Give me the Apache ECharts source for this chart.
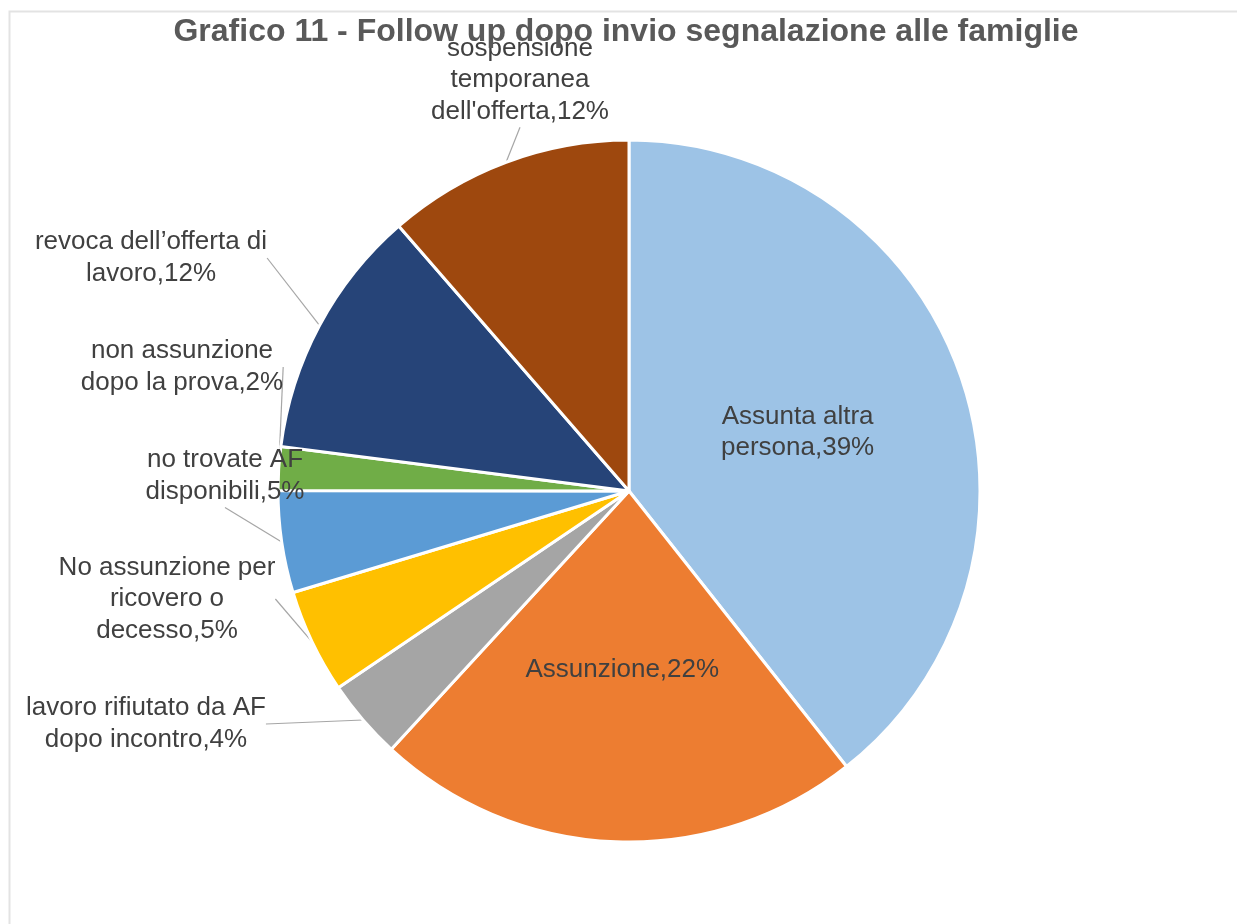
<!DOCTYPE html>
<html>
<head>
<meta charset="utf-8">
<script src="https://cdn.jsdelivr.net/npm/echarts@6/dist/echarts.min.js"></script>
<style>
  html, body { margin: 0; padding: 0; background: #fff; }
  #main { width: 1237px; height: 924px; }
</style>
</head>
<body>
<div id="main"></div>
<script>
// category names, with the line breaks used on the chart
var categories = [
    'Assunta altra\npersona',
    'Assunzione',
    'lavoro rifiutato da AF\ndopo incontro',
    'No assunzione per\nricovero o\ndecesso',
    'no trovate AF\ndisponibili',
    'non assunzione\ndopo la prova',
    'revoca dell\u2019offerta di\nlavoro',
    "sospensione\ntemporanea\ndell'offerta"
];
// share of each slice
var shares = [39.4, 22.5, 3.7, 4.8, 4.7, 2.0, 11.6, 11.4];
// percentages as printed on the chart
var percentLabels = [39, 22, 4, 5, 5, 2, 12, 12];
var colors = ['#9DC3E6', '#ED7D31', '#A5A5A5', '#FFC000', '#5B9BD5', '#70AD47', '#264478', '#9E480E'];

// label placement (centre of each outside label), null = inside the slice
var labelPlace = [null, null, [146, 724], [167, 599], [225, 476], [182, 367], [151, 258], [520, 80]];

var font = '"Liberation Sans", Arial, sans-serif';
var myChart = echarts.init(document.getElementById('main'));

var pieData = [];
for (var i = 0; i < categories.length; i++) {
    pieData.push({
        name: categories[i],
        value: shares[i],
        itemStyle: { color: colors[i] },
        label: { position: labelPlace[i] ? 'outside' : 'inside' }
    });
}

option = {
    backgroundColor: '#fff',
    animation: false,
    title: {
        text: 'Grafico 11 - Follow up dopo invio segnalazione alle famiglie',
        left: 621,
        textAlign: 'center',
        top: 11,
        textStyle: {
            fontFamily: font,
            fontSize: 32,
            fontWeight: 'bold',
            color: '#595959'
        }
    },
    graphic: [{
        type: 'rect',
        shape: { x: 9.5, y: 11.5, width: 1400, height: 1000 },
        style: { fill: 'none', stroke: '#e3e3e3', lineWidth: 2 },
        silent: true
    }],
    series: [{
        type: 'pie',
        center: [629, 491],
        radius: 351,
        startAngle: 90,
        clockwise: true,
        data: pieData,
        itemStyle: {
            borderColor: '#fff',
            borderWidth: 3
        },
        label: {
            formatter: function (p) {
                return p.name + ',' + percentLabels[p.dataIndex] + '%';
            },
            fontFamily: font,
            fontSize: 26,
            lineHeight: 31.5,
            color: '#404040',
            align: 'center'
        },
        labelLine: {
            show: true,
            length: 10,
            length2: 0,
            lineStyle: { color: '#a6a6a6', width: 1.2 }
        },
        labelLayout: function (params) {
            var pos = labelPlace[params.dataIndex];
            if (!pos) {
                return {};
            }
            return {
                x: pos[0],
                y: pos[1],
                align: 'center',
                verticalAlign: 'middle'
            };
        },
        emphasis: { disabled: true }
    }]
};

myChart.setOption(option);
</script>
</body>
</html>
